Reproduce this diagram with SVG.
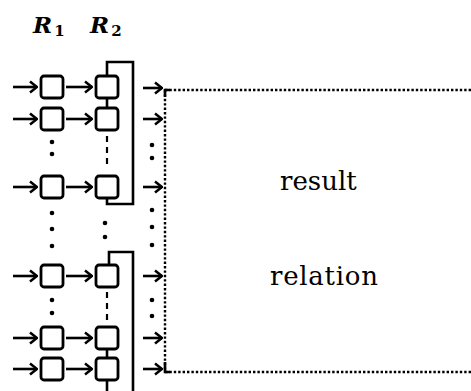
<svg xmlns="http://www.w3.org/2000/svg" width="471" height="391" viewBox="0 0 471 391">
<defs>
<marker id="ah" markerUnits="userSpaceOnUse" viewBox="0 0 10 14" refX="9" refY="7" markerWidth="10" markerHeight="14" orient="auto">
<path d="M2,1.5 L9,7 L2,12.5" fill="none" stroke="#000" stroke-width="2.6" stroke-linejoin="miter"/>
</marker>
</defs>
<style>
.box{fill:#fff;stroke:#000;stroke-width:2.8}
.arr{fill:none;stroke:#000;stroke-width:2.6;marker-end:url(#ah)}
.ln{fill:none;stroke:#000;stroke-width:2.6}
.dash{fill:none;stroke:#000;stroke-width:2.2;stroke-dasharray:6 5}
.dot{fill:#000}
.dotted{fill:none;stroke:#000;stroke-width:2.4;stroke-dasharray:2.4 2}
.lbl{font-family:"DejaVu Serif","Liberation Serif",serif;font-size:26px;fill:#000}
.rl{font-family:"DejaVu Serif","Liberation Serif",serif;font-style:italic;font-weight:bold;font-size:23px;fill:#000}
.sub{font-style:normal;font-size:15px}
</style>
<g id="labels">
<text class="rl" x="33" y="33">R<tspan class="sub" dx="2" dy="3">1</tspan></text>
<text class="rl" x="90" y="33">R<tspan class="sub" dx="2" dy="3">2</tspan></text>
</g>
<g id="result-relation">
<path class="dotted" d="M165,90 H471"/>
<path class="dotted" d="M165,90 V372"/>
<path class="dotted" d="M165,372 H471"/>
<path class="ln" d="M165,97 V90 H170" stroke-width="2"/>
<path class="ln" d="M165,362 V372 H170" stroke-width="2"/>
<text class="lbl" x="280" y="190">result</text>
<text class="lbl" x="270" y="285" textLength="108">relation</text>
</g>
<g id="R1">
<rect class="box" x="41" y="76" width="22" height="22" rx="3"/>
<rect class="box" x="41" y="108" width="22" height="22" rx="3"/>
<rect class="box" x="41" y="176" width="22" height="22" rx="3"/>
<rect class="box" x="41" y="265" width="22" height="22" rx="3"/>
<rect class="box" x="41" y="327" width="22" height="22" rx="3"/>
<rect class="box" x="41" y="358" width="22" height="22" rx="3"/>
<circle class="dot" cx="52" cy="142" r="2.3"/>
<circle class="dot" cx="52" cy="154" r="2.3"/>
<circle class="dot" cx="52" cy="213" r="2.3"/>
<circle class="dot" cx="52" cy="229" r="2.3"/>
<circle class="dot" cx="52" cy="246" r="2.3"/>
<circle class="dot" cx="52" cy="300" r="2.3"/>
<circle class="dot" cx="52" cy="313" r="2.3"/>
</g>
<g id="R2">
<path class="ln" d="M107,76 V62 H133 V204 H107 V198"/>
<path class="ln" d="M109,265 V252 H133 V391"/>
<path class="ln" d="M107,98 V108"/>
<path class="ln" d="M107,349 V358"/>
<path class="ln" d="M107,380 V391"/>
<path class="dash" d="M107,136 V168"/>
<path class="dash" d="M107,292 V324"/>
<rect class="box" x="96" y="76" width="22" height="22" rx="3"/>
<rect class="box" x="96" y="108" width="22" height="22" rx="3"/>
<rect class="box" x="96" y="176" width="22" height="22" rx="3"/>
<rect class="box" x="96" y="265" width="22" height="22" rx="3"/>
<rect class="box" x="96" y="327" width="22" height="22" rx="3"/>
<rect class="box" x="96" y="358" width="22" height="22" rx="3"/>
<circle class="dot" cx="105" cy="223" r="2.3"/>
<circle class="dot" cx="105" cy="237" r="2.3"/>
</g>
<g id="outputs">
<circle class="dot" cx="152" cy="145" r="2.3"/>
<circle class="dot" cx="152" cy="158" r="2.3"/>
<circle class="dot" cx="152" cy="210" r="2.3"/>
<circle class="dot" cx="152" cy="227" r="2.3"/>
<circle class="dot" cx="152" cy="245" r="2.3"/>
<circle class="dot" cx="152" cy="300" r="2.3"/>
<circle class="dot" cx="152" cy="316" r="2.3"/>
</g>
<g id="connectors">
<path class="arr" d="M13,87 H37"/>
<path class="arr" d="M13,119 H37"/>
<path class="arr" d="M13,187 H37"/>
<path class="arr" d="M13,276 H37"/>
<path class="arr" d="M13,338 H37"/>
<path class="arr" d="M13,369 H37"/>
<path class="arr" d="M66,87 H92"/>
<path class="arr" d="M66,119 H92"/>
<path class="arr" d="M66,187 H92"/>
<path class="arr" d="M66,276 H92"/>
<path class="arr" d="M66,338 H92"/>
<path class="arr" d="M66,369 H92"/>
<path class="arr" d="M143,88 H162"/>
<path class="arr" d="M143,119 H162"/>
<path class="arr" d="M143,187 H162"/>
<path class="arr" d="M143,276 H162"/>
<path class="arr" d="M143,338 H162"/>
<path class="arr" d="M143,369 H162"/>
</g>
</svg>
